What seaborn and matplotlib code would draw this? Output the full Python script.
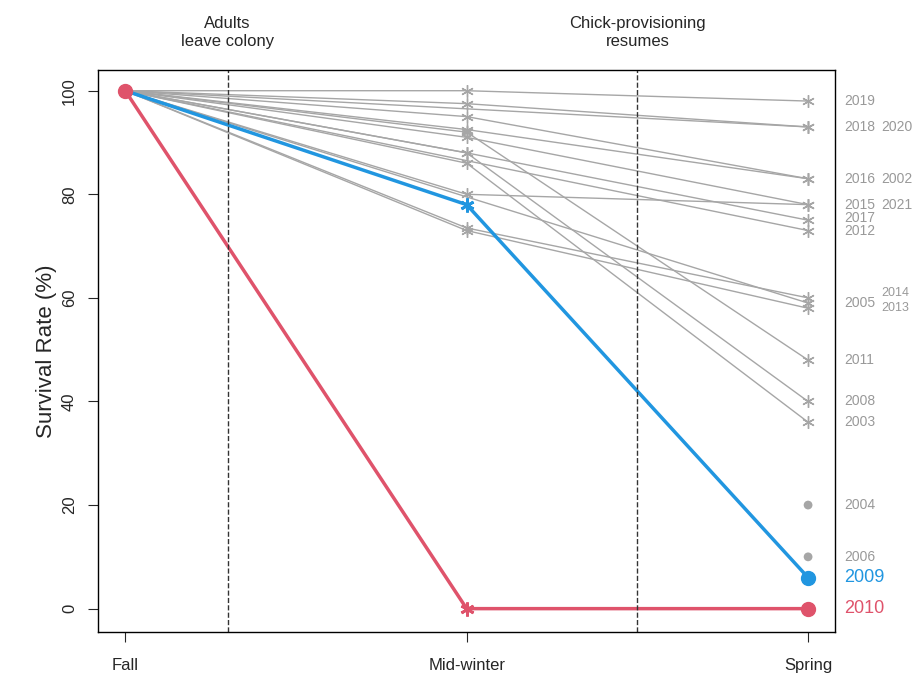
import numpy as np
import pandas as pd
import seaborn as sns
import matplotlib.pyplot as plt

sns.set_style("white")
plt.rcParams['font.family'] = ['Liberation Sans', 'DejaVu Sans']

stages = ['Fall', 'Mid-winter', 'Spring']
years = [2019, 2018, 2020, 2016, 2002, 2015, 2021, 2017, 2012, 2005, 2014, 2013, 2011, 2008, 2003]
midwinter = [100, 97.5, np.nan, 95, 92.5, 80, 91, 88, np.nan, 73, 73.5, np.nan, 92, 88, 86]
spring = [98, 93, 93, 83, 83, 78, 78, 75, 73, 58, 60, 59, 48, 40, 36]
dot_years = [2004, 2006]
dot_spring = [20, 10]
hi_years = [2009, 2010]
hi_mid = [78, 0]
hi_spring = [6, 0]
hi_colors = ['#2196e0', '#df536b']

fig, ax = plt.subplots(figsize=(9.15, 6.73), dpi=100)
fig.subplots_adjust(left=0.107, right=0.913, top=0.896, bottom=0.061)
star = (6, 2, 0)
grey = '#a6a6a6'

for yr, m, s in zip(years, midwinter, spring):
    xs, ys = [1], [100]
    if not np.isnan(m):
        xs.append(2); ys.append(m)
    xs.append(3); ys.append(s)
    sns.lineplot(x=xs, y=ys, ax=ax, color=grey, lw=1, sort=False)
    if not np.isnan(m):
        ax.plot(2, m, marker=star, color=grey, ms=9, mew=1)
    ax.plot(3, s, marker=star, color=grey, ms=9, mew=1)

sns.scatterplot(x=[3] * len(dot_spring), y=dot_spring, ax=ax, color=grey, s=40, edgecolor='none')

for yr, m, s, c in zip(hi_years, hi_mid, hi_spring, hi_colors):
    sns.lineplot(x=[1, 2, 3], y=[100, m, s], ax=ax, color=c, lw=2.5, sort=False)
    ax.plot(2, m, marker=star, color=c, ms=10, mew=2)
    ax.plot(3, s, 'o', color=c, ms=10)
ax.plot(1, 100, 'o', color=hi_colors[1], ms=10)

# labels at right
grey_txt = '#999999'
lab = [('2019', 98, 0, 10), ('2018', 93, 0, 10), ('2020', 93, 1, 10), ('2016', 83, 0, 10),
       ('2002', 83, 1, 10), ('2015', 78, 0, 10), ('2021', 78, 1, 10), ('2017', 75.5, 0, 10),
       ('2012', 73, 0, 10), ('2005', 59, 0, 10), ('2014', 60.9, 1, 9), ('2013', 58.0, 1, 9),
       ('2011', 48, 0, 10), ('2008', 40, 0, 10), ('2003', 36, 0, 10), ('2004', 20, 0, 10),
       ('2006', 10, 0, 10)]
for t, y, col, fs in lab:
    ax.text(3.105 + col * 0.11, y, t, color=grey_txt, fontsize=fs, va='center', clip_on=False)
for yr, s, c in zip(hi_years, hi_spring, hi_colors):
    ax.text(3.105, s, str(yr), color=c, fontsize=13, va='center', clip_on=False)

ax.axvline(1.3, color='#333333', ls='--', lw=1)
ax.axvline(2.5, color='#333333', ls='--', lw=1)
ax.text(1.3, 108, 'Adults\nleave colony', ha='center', va='bottom', fontsize=12, linespacing=1.3)
ax.text(2.5, 108, 'Chick-provisioning\nresumes', ha='center', va='bottom', fontsize=12, linespacing=1.3)

ax.set_xlim(0.92, 3.08)
ax.set_ylim(-4.5, 104)
ax.set_xticks([1, 2, 3])
ax.set_xticklabels(stages, fontsize=12)
ax.set_yticks(range(0, 101, 20))
ax.tick_params(axis='y', labelrotation=90, labelsize=12, left=True, length=7, pad=8)
ax.tick_params(axis='x', bottom=True, length=7, pad=12)
for t in ax.get_yticklabels():
    t.set_va('center')
ax.set_ylabel('Survival Rate (%)', fontsize=16)
for sp in ax.spines.values():
    sp.set_color('black')
    sp.set_linewidth(1)

fig.savefig('out.png', dpi=100)
